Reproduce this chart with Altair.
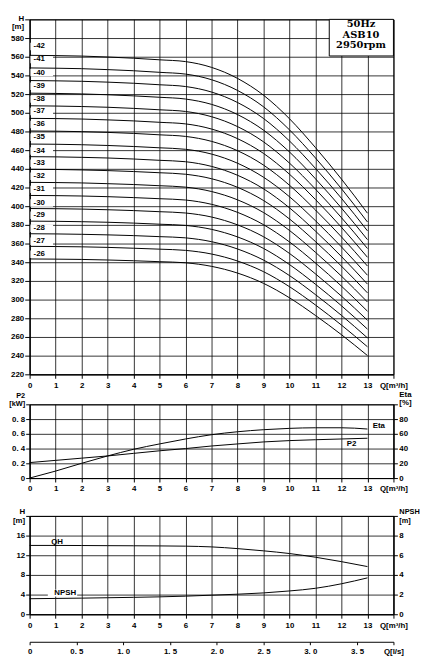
import altair as alt
import pandas as pd

# ---------------- data ----------------
flow_q = [0, 1, 2, 3, 4, 5, 6, 7, 8, 9, 10, 11, 12, 13]  # Q [m3/h]

h_26 = [343.5, 343.3, 343.0, 342.4, 341.6, 340.6, 339.4, 335.6, 328.4, 317.4, 301.9, 283.0, 262.4, 240.1]
h_27 = [357.0, 356.8, 356.5, 355.9, 355.0, 354.0, 352.7, 348.8, 341.3, 329.9, 313.8, 294.2, 272.7, 249.5]
h_28 = [370.5, 370.3, 369.9, 369.3, 368.5, 367.4, 366.1, 362.0, 354.2, 342.3, 325.7, 305.3, 283.1, 259.0]
h_29 = [384.0, 383.8, 383.4, 382.8, 381.9, 380.7, 379.4, 375.2, 367.1, 354.8, 337.5, 316.4, 293.4, 268.4]
h_30 = [397.5, 397.3, 396.9, 396.2, 395.3, 394.1, 392.7, 388.4, 380.0, 367.3, 349.4, 327.5, 303.7, 277.9]
h_31 = [411.5, 411.3, 410.9, 410.2, 409.2, 408.0, 406.6, 402.0, 393.4, 380.2, 361.7, 339.1, 314.4, 287.6]
h_32 = [425.5, 425.3, 424.9, 424.1, 423.2, 421.9, 420.4, 415.7, 406.8, 393.2, 374.0, 350.6, 325.1, 297.4]
h_33 = [439.5, 439.3, 438.8, 438.1, 437.1, 435.8, 434.2, 429.4, 420.2, 406.1, 386.3, 362.1, 335.8, 307.2]
h_34 = [453.0, 452.8, 452.3, 451.6, 450.5, 449.1, 447.6, 442.6, 433.1, 418.6, 398.2, 373.3, 346.1, 316.6]
h_35 = [466.5, 466.3, 465.8, 465.0, 463.9, 462.5, 460.9, 455.8, 446.0, 431.0, 410.1, 384.4, 356.4, 326.1]
h_36 = [480.5, 480.3, 479.8, 479.0, 477.9, 476.4, 474.7, 469.4, 459.4, 444.0, 422.4, 395.9, 367.1, 335.9]
h_37 = [494.0, 493.8, 493.3, 492.4, 491.3, 489.8, 488.1, 482.6, 472.3, 456.5, 434.2, 407.1, 377.4, 345.3]
h_38 = [507.5, 507.2, 506.7, 505.9, 504.7, 503.2, 501.4, 495.8, 485.2, 468.9, 446.1, 418.2, 387.7, 354.7]
h_39 = [521.0, 520.7, 520.2, 519.3, 518.1, 516.6, 514.7, 509.0, 498.1, 481.4, 458.0, 429.3, 398.0, 364.2]
h_40 = [534.5, 534.2, 533.7, 532.8, 531.6, 530.0, 528.1, 522.2, 511.0, 493.9, 469.8, 440.4, 408.4, 373.6]
h_41 = [548.0, 547.7, 547.2, 546.2, 545.0, 543.3, 541.4, 535.4, 523.9, 506.4, 481.7, 451.6, 418.7, 383.1]
h_42 = [561.5, 561.2, 560.7, 559.7, 558.4, 556.7, 554.8, 548.6, 536.8, 518.8, 493.6, 462.7, 429.0, 392.5]

stage_names = ["-26", "-27", "-28", "-29", "-30", "-31", "-32", "-33", "-34",
               "-35", "-36", "-37", "-38", "-39", "-40", "-41", "-42"]
stage_curves = [h_26, h_27, h_28, h_29, h_30, h_31, h_32, h_33, h_34,
                h_35, h_36, h_37, h_38, h_39, h_40, h_41, h_42]
stage_label_h = [348.6, 362.5, 376.3, 390.3, 403.4, 418.0, 432.0, 446.0, 459.0,
                 473.7, 487.5, 501.4, 514.6, 528.5, 543.0, 557.0, 571.0]

p2_kw = [0.21, 0.24, 0.27, 0.30, 0.335, 0.37, 0.40, 0.435, 0.463, 0.49, 0.508, 0.52, 0.53, 0.54]
eta_pct = [0, 9.5, 20, 30, 39, 46.3, 53, 58.8, 62.8, 65.6, 67.4, 68.2, 68.2, 66.5]

qh_single_m = [14.0, 14.0, 13.98, 13.95, 13.93, 13.9, 13.85, 13.7, 13.35, 12.9, 12.35, 11.6, 10.7, 9.7]
npsh_m = [1.58, 1.61, 1.64, 1.68, 1.72, 1.77, 1.84, 1.94, 2.04, 2.17, 2.37, 2.64, 3.1, 3.7]

info_lines = ["50Hz", "ASB10", "2950rpm"]

x_ticks = list(range(15))
h_ticks = list(range(220, 601, 20))
p2_ticks = [0, 0.2, 0.4, 0.6, 0.8, 1.0]
eta_ticks = [0, 20, 40, 60, 80, 100]
qh_ticks = [0, 4, 8, 12, 16, 20]
npsh_ticks = [0, 2, 4, 6, 8, 10]
lps_max = 14 / 3.6
lps_ticks = [0, 0.5, 1.0, 1.5, 2.0, 2.5, 3.0, 3.5, lps_max]

# ---------------- layout / style ----------------
W = 370
FONT = "Liberation Sans"
LBL = dict(font=FONT, fontWeight="bold", fontSize=8, color="black")

curves_df = pd.DataFrame(
    [{"Q": q, "H": h, "stage": name}
     for name, hs in zip(stage_names, stage_curves) for q, h in zip(flow_q, hs)]
)
labels_df = pd.DataFrame({"stage": stage_names, "H": stage_label_h})
labels_df["Q"] = 0.15

xs = alt.Scale(domain=[0, 14], nice=False, zero=False)
X_AXIS = alt.Axis(values=x_ticks, labelExpr="datum.value == 14 ? 'Q[m³/h]' : datum.label",
                  title=None, grid=True, tickSize=4, labelPadding=3, labelFlush=False,
                  labelOverlap=False, labelAngle=0)


def xq(field="Q", axis=X_AXIS):
    return alt.X(f"{field}:Q", scale=xs, axis=axis, title=None)


def cond(test, v_true, v_false):
    return {"condition": {"test": test, "value": v_true}, "value": v_false}


# ---------- top panel ----------
hs_top = alt.Scale(domain=[220, 600], nice=False, zero=False)
TOP_Y_AXIS = alt.Axis(values=h_ticks, title=None, grid=True, tickSize=5, labelPadding=1,
                      labelOverlap=False, labelFlush=False, orient="left",
                      labelExpr="datum.value == 600 ? ['H','[m]'] : datum.label",
                      labelOffset=cond("datum.value == 600", -1, 0))


def ytop(field):
    return alt.Y(f"{field}:Q", scale=hs_top, axis=TOP_Y_AXIS, title=None)


top_lines = alt.Chart(curves_df).mark_line(color="black", strokeWidth=1, interpolate="monotone").encode(
    x=xq(), y=ytop("H"), detail="stage:N")

top_bg = alt.Chart(labels_df).transform_calculate(
    q0="0.03", q1="0.9", h0="datum.H - 4", h1="datum.H + 4"
).mark_rect(color="white").encode(x=xq("q0"), x2="q1:Q", y=ytop("h0"), y2="h1:Q")

top_lbl = alt.Chart(labels_df).mark_text(align="left", baseline="middle", **LBL).encode(
    x=xq("Q"), y=ytop("H"), text="stage:N")

box_df = pd.DataFrame({"q0": [11.53], "q1": [14.0], "h0": [560.8], "h1": [600.0]})
info_box = alt.Chart(box_df).mark_rect(fill="white", stroke="black", strokeWidth=1).encode(
    x=xq("q0"), x2="q1:Q", y=ytop("h0"), y2="h1:Q")
info_df = pd.DataFrame({"t": info_lines, "H": [594.5, 583.5, 572.5]})
info_df["Q"] = 12.75
info_txt = alt.Chart(info_df).mark_text(align="center", baseline="middle", font="DejaVu Serif",
                                        fontWeight="bold", fontSize=10, color="black").encode(
    x=xq("Q"), y=ytop("H"), text="t:N")

top = alt.layer(top_bg, top_lines, top_lbl, info_box, info_txt).properties(width=W, height=361)

# ---------- middle panel ----------
mid_df = pd.DataFrame({"Q": flow_q, "P2": p2_kw, "Eta": eta_pct})
p2s = alt.Scale(domain=[0, 1.0], nice=False, zero=False)
etas = alt.Scale(domain=[0, 100], nice=False, zero=False)
P2_AXIS = alt.Axis(values=p2_ticks, title=None, grid=True, tickSize=4, labelPadding=1,
                   labelOverlap=False, labelFlush=False, orient="left",
                   labelExpr="datum.value == 1 ? ['P2','[kW]'] : (datum.value == 0 ? '0' : replace(format(datum.value, '.1f'), '.', '. '))",
                   labelOffset=cond("datum.value == 1", -9, 0),
                   labelFontSize=cond("datum.value == 1", 7.5, 8))
ETA_AXIS = alt.Axis(values=eta_ticks, title=None, grid=False, tickSize=4, labelPadding=1.5,
                    labelOverlap=False, labelFlush=False, orient="right",
                    labelExpr="datum.value == 100 ? ['Eta','[%]'] : datum.label",
                    labelOffset=cond("datum.value == 100", -10, 0))


def yp2(field):
    return alt.Y(f"{field}:Q", scale=p2s, axis=P2_AXIS, title=None)


def yeta(field):
    return alt.Y(f"{field}:Q", scale=etas, axis=ETA_AXIS, title=None)


p2_line = alt.Chart(mid_df).mark_line(color="black", strokeWidth=1, interpolate="monotone").encode(
    x=xq(), y=yp2("P2"))
p2_lbl = alt.Chart(pd.DataFrame({"Q": [12.2], "P2": [0.463], "t": ["P2"]})).mark_text(
    align="left", baseline="middle", **LBL).encode(x=xq("Q"), y=yp2("P2"), text="t:N")
eta_line = alt.Chart(mid_df).mark_line(color="black", strokeWidth=1, interpolate="monotone").encode(
    x=xq(), y=yeta("Eta"))
eta_lbl = alt.Chart(pd.DataFrame({"Q": [13.2], "Eta": [70], "t": ["Eta"]})).mark_text(
    align="left", baseline="middle", **LBL).encode(x=xq("Q"), y=yeta("Eta"), text="t:N")

mid = alt.layer(alt.layer(p2_line, p2_lbl), alt.layer(eta_line, eta_lbl)).resolve_scale(
    y="independent").properties(width=W, height=75)

# ---------- bottom panel ----------
bot_df = pd.DataFrame({"Q": flow_q, "H": qh_single_m, "NPSH": npsh_m})
qhs = alt.Scale(domain=[0, 20], nice=False, zero=False)
nps = alt.Scale(domain=[0, 10], nice=False, zero=False)
QH_AXIS = alt.Axis(values=qh_ticks, title=None, grid=True, tickSize=4, labelPadding=1,
                   labelOverlap=False, labelFlush=False, orient="left",
                   labelExpr="datum.value == 20 ? ['H','[m]'] : datum.label",
                   labelOffset=cond("datum.value == 20", -4, 0))
NPSH_AXIS = alt.Axis(values=npsh_ticks, title=None, grid=False, tickSize=4, labelPadding=1.5,
                     labelOverlap=False, labelFlush=False, orient="right",
                     labelExpr="datum.value == 10 ? ['NPSH','[m]'] : datum.label",
                     labelOffset=cond("datum.value == 10", -4, 0),
                     labelFontSize=cond("datum.value == 10", 7.5, 8))
LPS_AXIS = alt.Axis(values=lps_ticks, title=None, grid=False, tickSize=3, labelPadding=3,
                    labelOverlap=False, labelFlush=False, orient="bottom", offset=28,
                    labelExpr="datum.value > 3.8 ? 'Q[l/s]' : (datum.value == 0 ? '0' : replace(format(datum.value, '.1f'), '.', '. '))")


def yqh(field):
    return alt.Y(f"{field}:Q", scale=qhs, axis=QH_AXIS, title=None)


qh_line = alt.Chart(bot_df).mark_line(color="black", strokeWidth=1, interpolate="monotone").encode(
    x=xq(), y=yqh("H"))
bot_lbl_df = pd.DataFrame({"Q": [0.83, 0.95], "H": [14.7, 4.3], "t": ["QH", "NPSH"]})
npsh_bg = alt.Chart(pd.DataFrame({"q0": [0.7], "q1": [1.83], "h0": [3.6], "h1": [5.0]})).mark_rect(
    color="white").encode(x=xq("q0"), x2="q1:Q", y=yqh("h0"), y2="h1:Q")
bot_lbl = alt.Chart(bot_lbl_df).mark_text(align="left", baseline="middle", **LBL).encode(
    x=xq("Q"), y=yqh("H"), text="t:N")
npsh_line = alt.Chart(bot_df).mark_line(color="black", strokeWidth=1, interpolate="monotone").encode(
    x=xq(axis=None), y=alt.Y("NPSH:Q", scale=nps, axis=NPSH_AXIS, title=None))
lps_layer = alt.Chart(pd.DataFrame({"lps": [0.0]})).mark_point(opacity=0).encode(
    x=alt.X("lps:Q", scale=alt.Scale(domain=[0, lps_max], nice=False, zero=False),
            axis=LPS_AXIS, title=None))

bot = alt.layer(alt.layer(npsh_bg, qh_line, bot_lbl), npsh_line, lps_layer).resolve_scale(
    x="independent", y="independent").properties(width=W, height=100)

inner = alt.vconcat(mid, bot, spacing=38.5, bounds="flush")
chart = alt.vconcat(top, inner, spacing=30.5, bounds="flush").properties(
    padding=0, background="white"
).configure_view(stroke="black", strokeWidth=1).configure_axis(
    labelFont=FONT, labelFontWeight="bold", labelFontSize=8, labelColor="black",
    labelLineHeight=8.5, tickColor="black", domainColor="black", gridColor="black",
    gridOpacity=0.8, gridWidth=1, tickWidth=1, domainWidth=1
)

chart.save("out.html", embed_options={"renderer": "svg", "actions": False})
